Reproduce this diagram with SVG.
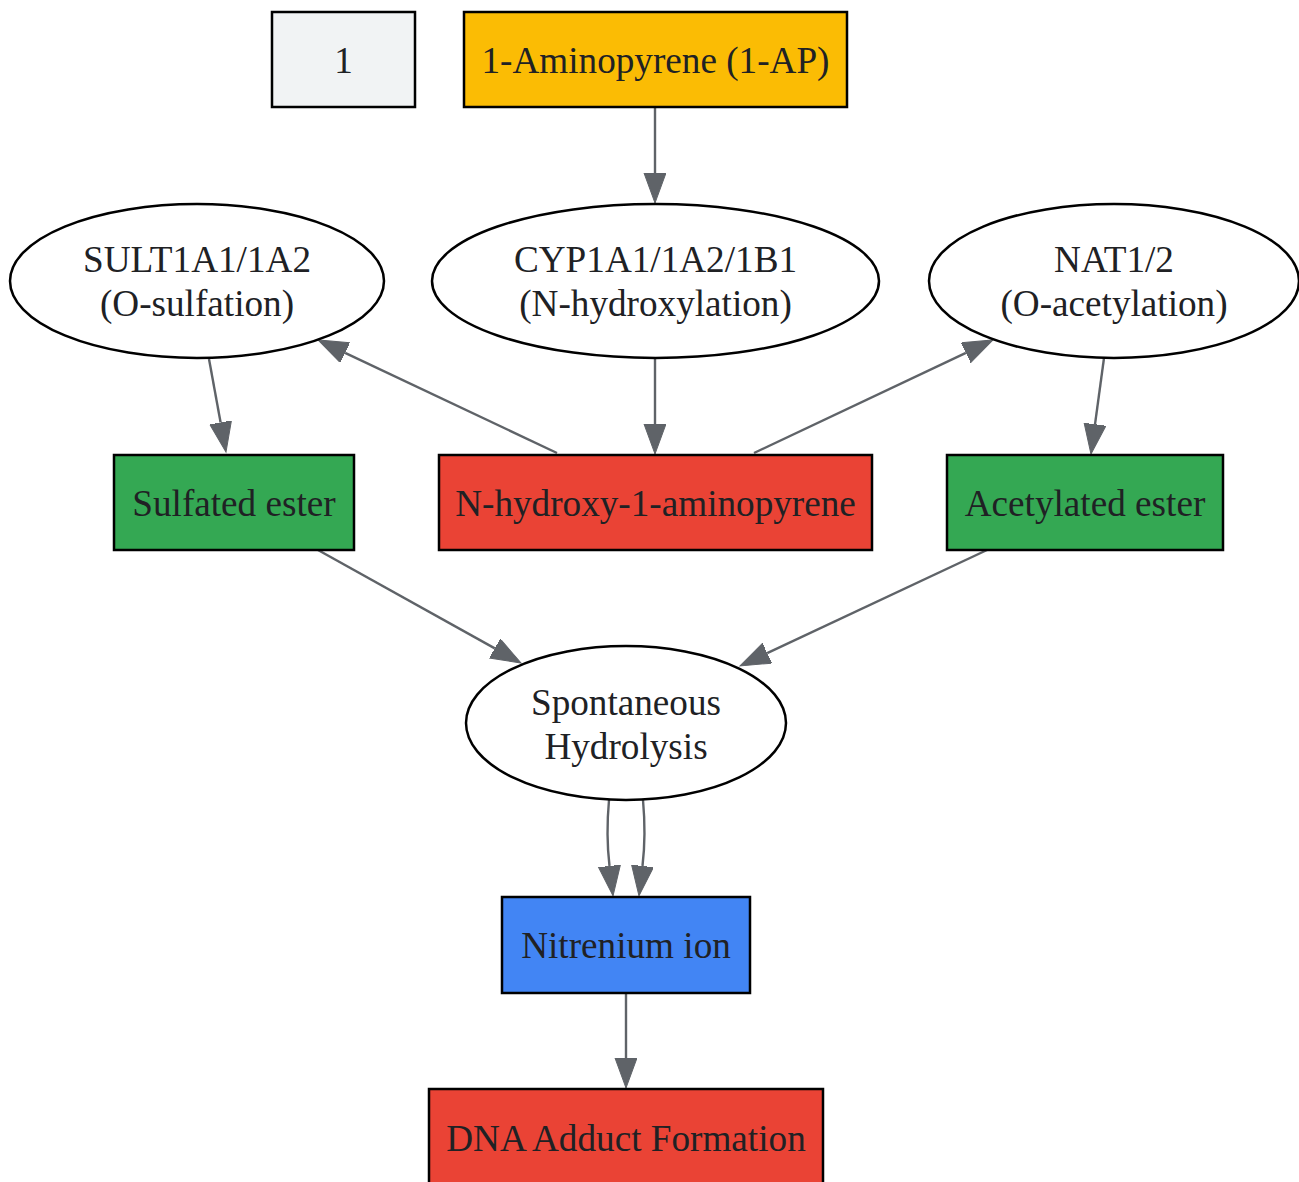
<svg xmlns="http://www.w3.org/2000/svg" width="1299" height="1182" viewBox="0 0 1299 1182">
<style>
  .nd { stroke: #000000; stroke-width: 2.5; }
  .lbl { font-family: "Liberation Serif", "Times New Roman", serif; font-size: 37.2px; fill: #202124; text-anchor: middle; }
  .edge { stroke: #5f6368; stroke-width: 2.4; fill: none; }
</style>
<defs>
  <marker id="ah" markerUnits="userSpaceOnUse" markerWidth="32" markerHeight="24" refX="0" refY="11" orient="auto" viewBox="0 0 32 24">
    <path d="M0,0 L30,11 L0,22 Z" fill="#5f6368" stroke="#5f6368" stroke-width="1"/>
  </marker>
</defs>
<rect width="1299" height="1182" fill="#ffffff"/>

<g id="connectors">
  <path class="edge" d="M655,107 L655,173" marker-end="url(#ah)"/>
  <path class="edge" d="M655,358 L655,424" marker-end="url(#ah)"/>
  <path class="edge" d="M557,453 L345.1,352.8" marker-end="url(#ah)"/>
  <path class="edge" d="M754,453 L965.9,352.8" marker-end="url(#ah)"/>
  <path class="edge" d="M209,359 L220.6,422.5" marker-end="url(#ah)"/>
  <path class="edge" d="M1104,358 L1095,424.3" marker-end="url(#ah)"/>
  <path class="edge" d="M318,550 L494.8,648.4" marker-end="url(#ah)"/>
  <path class="edge" d="M987,550 L767.2,653.2" marker-end="url(#ah)"/>
  <path class="edge" d="M609,800 C607,822 607,845 609.5,866" marker-end="url(#ah)"/>
  <path class="edge" d="M643,800 C645,822 645,845 642.5,866" marker-end="url(#ah)"/>
  <path class="edge" d="M626,993 L626,1058" marker-end="url(#ah)"/>
</g>

<g id="node-1">
  <rect class="nd" x="272" y="12" width="143" height="95" fill="#f1f3f4"/>
  <text class="lbl" x="343.5" y="73">1</text>
</g>
<g id="node-1ap">
  <rect class="nd" x="464" y="12" width="383" height="95" fill="#fbbc04"/>
  <text class="lbl" x="655.5" y="73">1-Aminopyrene (1-AP)</text>
</g>
<g id="node-sult">
  <ellipse class="nd" cx="197" cy="281" rx="187" ry="77" fill="#ffffff"/>
  <text class="lbl" x="197" y="272">SULT1A1/1A2</text>
  <text class="lbl" x="197" y="316">(O-sulfation)</text>
</g>
<g id="node-cyp">
  <ellipse class="nd" cx="655.5" cy="281" rx="223.5" ry="77" fill="#ffffff"/>
  <text class="lbl" x="655.5" y="272">CYP1A1/1A2/1B1</text>
  <text class="lbl" x="655.5" y="316">(N-hydroxylation)</text>
</g>
<g id="node-nat">
  <ellipse class="nd" cx="1114" cy="281" rx="185" ry="77" fill="#ffffff"/>
  <text class="lbl" x="1114" y="272">NAT1/2</text>
  <text class="lbl" x="1114" y="316">(O-acetylation)</text>
</g>
<g id="node-sulfated">
  <rect class="nd" x="114" y="455" width="240" height="95" fill="#34a853"/>
  <text class="lbl" x="234" y="516">Sulfated ester</text>
</g>
<g id="node-nhydroxy">
  <rect class="nd" x="439" y="455" width="433" height="95" fill="#ea4335"/>
  <text class="lbl" x="655.5" y="516">N-hydroxy-1-aminopyrene</text>
</g>
<g id="node-acetylated">
  <rect class="nd" x="947" y="455" width="276" height="95" fill="#34a853"/>
  <text class="lbl" x="1085" y="516">Acetylated ester</text>
</g>
<g id="node-spont">
  <ellipse class="nd" cx="626" cy="723" rx="160" ry="77" fill="#ffffff"/>
  <text class="lbl" x="626" y="715">Spontaneous</text>
  <text class="lbl" x="626" y="759">Hydrolysis</text>
</g>
<g id="node-nitrenium">
  <rect class="nd" x="502" y="897" width="248" height="96" fill="#4285f4"/>
  <text class="lbl" x="626" y="958">Nitrenium ion</text>
</g>
<g id="node-dna">
  <rect class="nd" x="429" y="1089" width="394" height="96" fill="#ea4335"/>
  <text class="lbl" x="626" y="1151">DNA Adduct Formation</text>
</g>
</svg>
